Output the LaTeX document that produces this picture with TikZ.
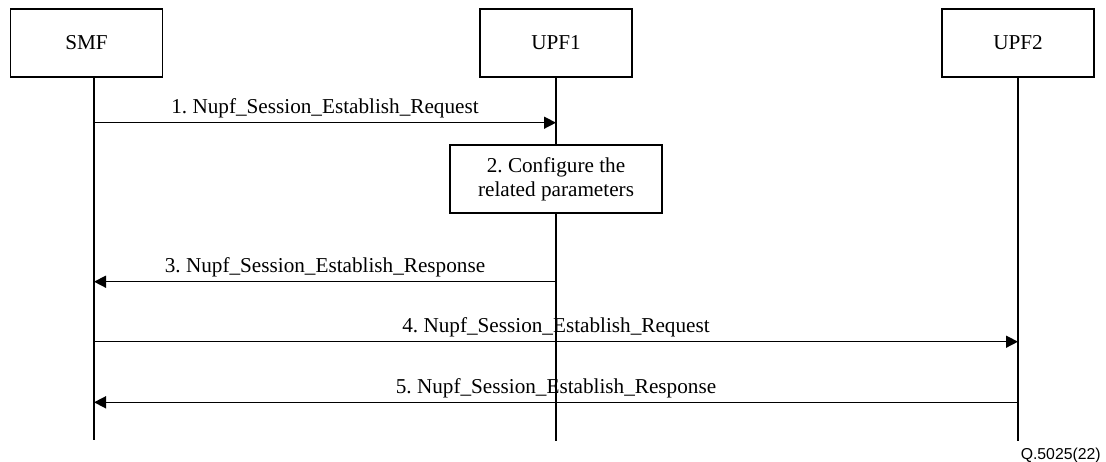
\documentclass[tikz,border=0pt]{standalone}
\usepackage{fontspec}
\setmainfont{Liberation Serif}
\newfontfamily\fignofont{Liberation Sans}
\usetikzlibrary{arrows.meta}
\frenchspacing

\begin{document}
\begin{tikzpicture}[x=0.5pt, y=-0.5pt, >={Triangle[length=6pt,width=6pt]}, line width=0.75pt,
	entity/.style={draw, minimum width=75.8pt, minimum height=34pt, inner sep=0pt, font=\fontsize{10.6}{12}\selectfont},
	msg/.style={font=\fontsize{10.6}{12}\selectfont, anchor=base, yshift=4.5pt, inner sep=0pt}]
	\useasboundingbox (0,0) rectangle (1106,461);
	\node[entity] (smf) at (86.5,43) {SMF};
	\node[entity] (upf1) at (556,43) {UPF1};
	\node[entity] (upf2) at (1018,43) {UPF2};
	% lifelines
	\coordinate (smftop) at (94,77);
	\draw (smftop) -- ++(0,363) coordinate (smfend);
	\draw (upf1.south) -- ++(0,363) coordinate (upf1end);
	\draw (upf2.south) -- ++(0,363) coordinate (upf2end);
	\node[entity, fill=white, minimum width=106pt, align=center] (config) at (556,179) {2. Configure the\\related parameters};
	% messages
	\draw[->] (smfend |- 0,122.7) -- (upf1end |- 0,122.7) node[msg, midway] {1. Nupf\_Session\_Establish\_Request};
	\draw[->] (upf1end |- 0,281.7) -- (smfend |- 0,281.7) node[msg, midway] {3. Nupf\_Session\_Establish\_Response};
	\draw[->] (smfend |- 0,341.7) -- (upf2end |- 0,341.7) node[msg, midway] {4. Nupf\_Session\_Establish\_Request};
	\draw[->] (upf2end |- 0,402.3) -- (smfend |- 0,402.3) node[msg, midway] {5. Nupf\_Session\_Establish\_Response};
	\node[font=\fignofont\fontsize{7.9}{9}\selectfont, anchor=north west, inner sep=0pt] (figno) at ([xshift=1pt,yshift=-3.5pt]upf2end) {Q.5025(22)};
\end{tikzpicture}
\end{document}
